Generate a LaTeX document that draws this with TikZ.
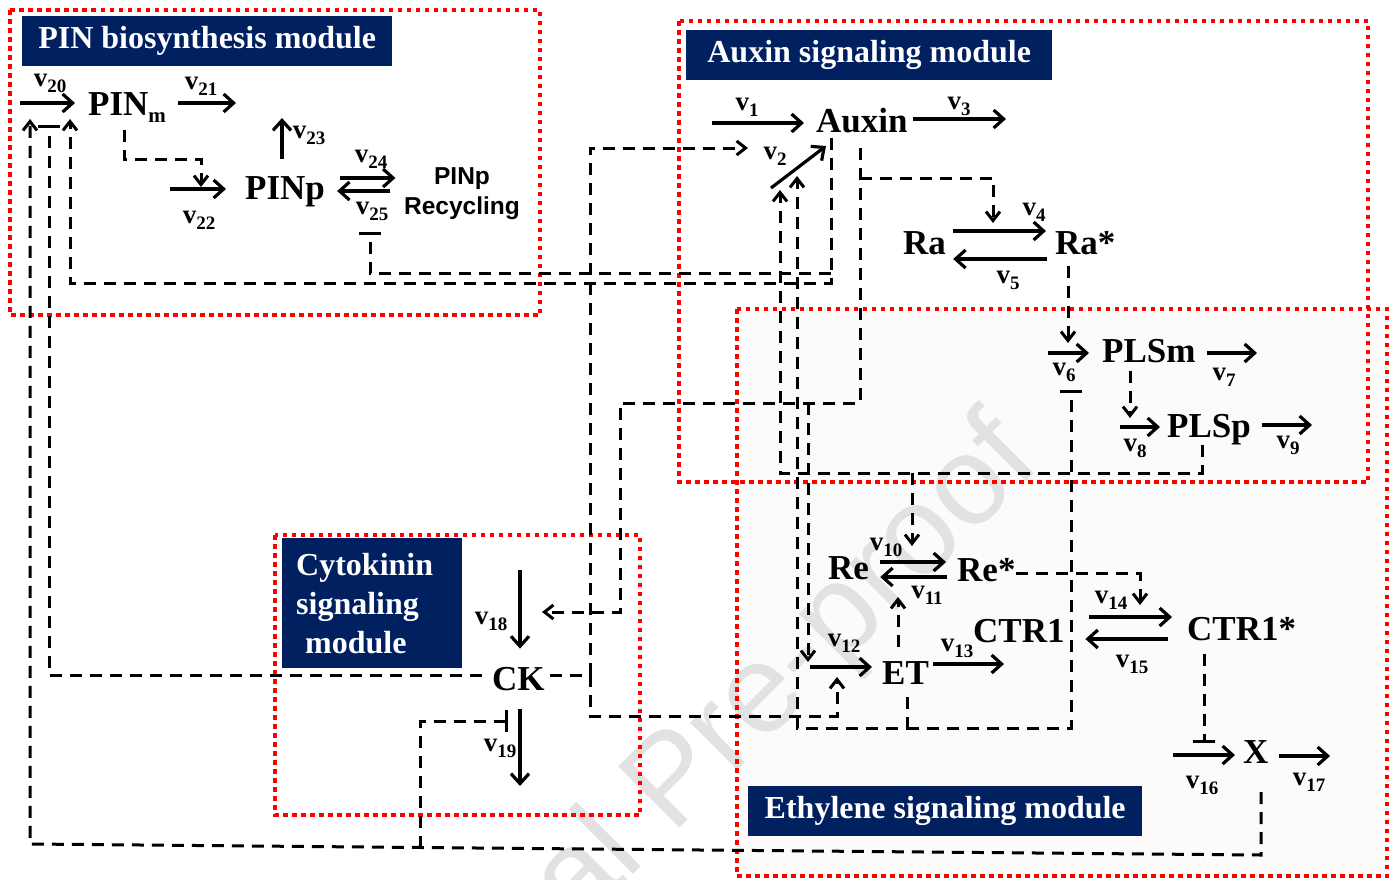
\documentclass[tikz,border=0pt]{standalone}
\usepackage{fontspec}
\setmainfont{Liberation Serif}
\newfontfamily\arialfont{Liberation Sans}
\usetikzlibrary{arrows.meta}
\definecolor{navy}{HTML}{002060}
\definecolor{wmgray}{HTML}{E2E2E2}
\definecolor{ethfill}{RGB}{252,251,249}
% rate label: bold v with a lowered index
\newcommand\rl[1]{v\raisebox{-6pt}{\fontsize{19}{19}\selectfont #1}}
\tikzset{
  sp/.style={inner sep=0pt, anchor=base west, font=\fontsize{35}{40}\selectfont\bfseries},
  lb/.style={inner sep=0pt, font=\fontsize{27}{27}\selectfont\bfseries},
  rx/.style={line width=3.2pt, -{Straight Barb[length=10pt,width=18pt]}},
  dsh/.style={line width=3pt, dash pattern=on 12pt off 8pt},
  act/.style={dsh, -{Straight Barb[length=9pt,width=14pt]}},
  inh/.style={dsh, -{Bar[width=22pt]}},
  modbox/.style={draw=red, line width=4.5pt, dash pattern=on 4.5pt off 4.5pt},
  modlabel/.style={fill=navy, text=white, inner sep=0pt, anchor=north west,
    minimum height=50pt, font=\fontsize{32}{39}\selectfont\bfseries},
}
\begin{document}
\begin{tikzpicture}[x=1pt,y=-1pt]
\useasboundingbox (0,0) rectangle (1399,879);

% ethylene module background and watermark
\fill[ethfill] (737,309) rectangle (1387,876);
\node[font=\arialfont\fontsize{126}{126}\selectfont, text=wmgray, rotate=45,
      anchor=base east, inner sep=0pt] (wmark) at (1044,464) {Journal Pre-proof};

% module frames
\draw[modbox] (10,10) rectangle (540,315);
\draw[modbox] (679,21) rectangle (1368,482);
\draw[modbox] (737,309) rectangle (1387,876);
\draw[modbox] (275,535) rectangle (640,815);

% module titles
\node[modlabel, minimum width=370pt] (labPIN) at (22,16) {PIN biosynthesis module};
\node[modlabel, minimum width=366pt] (labAux) at (686,30) {Auxin signaling module};
\node[modlabel, minimum width=394pt] (labEth) at (748,786) {Ethylene signaling module};
\node[modlabel, minimum width=180pt, minimum height=130pt, text width=152pt, align=left]
  (labCK) at (282,538) {Cytokinin\\signaling\\\hspace*{9pt}module};

% species
\node[sp] (PINm) at (88,115) {PIN\raisebox{-7pt}{\fontsize{21}{21}\selectfont m}};
\node[sp] (PINp) at (245,199) {PINp};
\node[inner sep=0pt, align=center, font=\arialfont\bfseries\fontsize{24.5}{30}\selectfont]
  (Rec) at (462,194) {PINp\\Recycling};
\node[sp] (Auxin) at (816,132) {Auxin};
\node[sp] (Ra) at (903,254) {Ra};
\node[sp] (Ras) at (1055,254) {Ra*};
\node[sp] (PLSm) at (1102,362) {PLSm};
\node[sp] (PLSp) at (1167,437) {PLSp};
\node[sp] (Re) at (828,579) {Re};
\node[sp] (Res) at (957,581) {Re*};
\node[sp] (ET) at (882,684) {ET};
\node[sp] (CTR) at (973,642) {CTR1};
\node[sp] (CTRs) at (1187,640) {CTR1*};
\node[sp] (X) at (1243,763) {X};
\node[sp] (CK) at (492,690) {CK};

% free ends of the reaction arrows
\coordinate (f20) at (20,103);
\coordinate (f21) at (236,103);
\coordinate (f22) at (170,189);
\coordinate (f23) at (282,118);
\coordinate (f1) at (712,123);
\coordinate (f2) at (771,188);
\coordinate (t2) at (826,146);
\coordinate (f3) at (1006,119);
\coordinate (f6) at (1048,353);
\coordinate (f7) at (1257,353);
\coordinate (f8) at (1120,427);
\coordinate (f9) at (1312,425);
\coordinate (f12) at (810,667);
\coordinate (f13) at (1004,664);
\coordinate (f16) at (1173,755);
\coordinate (f17) at (1330,756);
\coordinate (f18) at (520,570);
\coordinate (f19) at (520,786);

% reactions
\draw[rx, shorten >=13pt] (f20) -- (PINm.west |- f20);
\draw[rx, shorten <=12pt] (PINm.east |- f21) -- (f21);
\draw[rx, shorten >=19pt] (f22) -- (PINp.west |- f22);
\draw[rx, shorten <=17pt] (f23 |- PINp.north) -- (f23);
\draw[rx, shorten <=15pt, shorten >=8.5pt] (PINp.east |- 0,178) -- (Rec.west |- 0,178);
\draw[rx, shorten <=13.5pt, shorten >=12pt] (Rec.west |- 0,191) -- (PINp.east |- 0,191);
\draw[rx, shorten >=12pt] (f1) -- (Auxin.west |- f1);
\draw[rx] (f2) -- (t2);
\draw[rx, shorten <=5.6pt] (Auxin.east |- f3) -- (f3);
\draw[rx, shorten <=7pt, shorten >=9pt] (Ra.east |- 0,231) -- (Ras.west |- 0,231);
\draw[rx, shorten <=8pt, shorten >=7pt] (Ras.west |- 0,259) -- (Ra.east |- 0,259);
\draw[rx, shorten >=13pt] (f6) -- (PLSm.west |- f6);
\draw[rx, shorten <=11.7pt] (PLSm.east |- f7) -- (f7);
\draw[rx, shorten >=7pt] (f8) -- (PLSp.west |- f8);
\draw[rx, shorten <=11.3pt] (PLSp.east |- f9) -- (f9);
\draw[rx, shorten <=11pt, shorten >=11pt] (Re.east |- 0,562) -- (Res.west |- 0,562);
\draw[rx, shorten <=10pt, shorten >=11pt] (Res.west |- 0,577) -- (Re.east |- 0,577);
\draw[rx, shorten >=10pt] (f12) -- (ET.west |- f12);
\draw[rx, shorten <=4.3pt] (ET.east |- f13) -- (f13);
\draw[rx, shorten <=24.6pt, shorten >=15pt] (CTR.east |- 0,617) -- (CTRs.west |- 0,617);
\draw[rx, shorten <=19pt, shorten >=20.6pt] (CTRs.west |- 0,639) -- (CTR.east |- 0,639);
\draw[rx, shorten >=8pt] (f16) -- (X.west |- f16);
\draw[rx, shorten <=10.7pt] (X.east |- f17) -- (f17);
\draw[rx, shorten >=18pt] (f18) -- (f18 |- CK.north);
\draw[rx, shorten <=18pt] (f19 |- CK.south) -- (f19);

% rate labels
\node[lb] (l20) at (50,83) {\rl{20}};
\node[lb] (l21) at (201,86) {\rl{21}};
\node[lb] (l22) at (199,220) {\rl{22}};
\node[lb] (l23) at (309,135) {\rl{23}};
\node[lb] (l24) at (371,159) {\rl{24}};
\node[lb] (l25) at (372,211) {\rl{25}};
\node[lb] (l1) at (747,107) {\rl{1}};
\node[lb] (l2) at (775,156) {\rl{2}};
\node[lb] (l3) at (959,106) {\rl{3}};
\node[lb] (l4) at (1034,212) {\rl{4}};
\node[lb] (l5) at (1008,280) {\rl{5}};
\node[lb] (l6) at (1064,372) {\rl{6}};
\node[lb] (l7) at (1224,377) {\rl{7}};
\node[lb] (l8) at (1135,448) {\rl{8}};
\node[lb] (l9) at (1288,445) {\rl{9}};
\node[lb] (l10) at (886,547) {\rl{10}};
\node[lb] (l11) at (927,595) {\rl{11}};
\node[lb] (l12) at (844,643) {\rl{12}};
\node[lb] (l13) at (957,648) {\rl{13}};
\node[lb] (l14) at (1111,600) {\rl{14}};
\node[lb] (l15) at (1132,664) {\rl{15}};
\node[lb] (l16) at (1202,785) {\rl{16}};
\node[lb] (l17) at (1309,782) {\rl{17}};
\node[lb] (l18) at (491,621) {\rl{18}};
\node[lb] (l19) at (500,748) {\rl{19}};

% targets of the regulatory links
\coordinate (v22t) at (201,187);
\coordinate (v20a) at (30,119);
\coordinate (v20i) at (49,125);
\coordinate (v20b) at (70,119);
\coordinate (v25i) at (370,232);
\coordinate (v2a) at (748,148);
\coordinate (v2b) at (780,190);
\coordinate (v2c) at (797,176);
\coordinate (v4a) at (993,223);
\coordinate (v6a) at (1068,343);
\coordinate (v6i) at (1071,390);
\coordinate (v8a) at (1130,418);
\coordinate (v10a) at (912,546);
\coordinate (v11a) at (898,597);
\coordinate (v12a) at (808,662);
\coordinate (v12b) at (837,677);
\coordinate (v14a) at (1140,605);
\coordinate (v16i) at (1204,743);
\coordinate (v18a) at (542,612);
\coordinate (v19i) at (508,721);

% branch points
\coordinate (jA1) at (831,273);
\coordinate (jA2) at (808,403);
\coordinate (jA3) at (860,178);
\coordinate (jC) at (590,675);
\coordinate (jP) at (912,473);
\coordinate (jE) at (907,728);
\coordinate (jX) at (420,847.5);

% regulatory links
\draw[act, shorten <=8pt] (124,0 |- PINm.south) -- (124,159) -| (v22t);
\draw[act, shorten <=5pt] (831,0 |- Auxin.south) -- (831,283) -| (v20b);
\draw[inh] (jA1) -| (v25i);
\draw[act, shorten <=15pt] (860,0 |- Auxin.south) |- (620,403) |- (v18a);
\draw[act] (jA3) -| (v4a);
\draw[act] (jA2) -- (v12a);
\draw[inh, shorten <=10pt] (CK.west |- 0,675) -| (v20i);
\draw[act, shorten <=5pt] (CK.east |- 0,675) -- (jC) |- (v2a);
\draw[act] (jC) -- (590,716) -| (v12b);
\draw[act] (1202,0 |- PLSp.south) |- (780,473) -- (v2b);
\draw[act] (jP) -- (v10a);
\draw[act, shorten <=13pt] (907,0 |- ET.south) |- (797,728) -- (v2c);
\draw[inh] (jE) -| (v6i);
\draw[act, shorten <=14pt] (898,0 |- ET.north) -- (v11a);
\draw[act] (Res.east |- 0,573) -| (v14a);
\draw[inh, shorten <=13pt] (1204,0 |- CTRs.south) -- (v16i);
\draw[act, shorten <=29pt] (1261,0 |- X.south) -- (1261,855) -- (30,844) -- (v20a);
\draw[inh] (jX) |- (v19i);
\draw[act, shorten <=11pt] (1068,0 |- Ras.south) -- (v6a);
\draw[act, shorten <=8pt] (1130,0 |- PLSm.south) -- (v8a);
\end{tikzpicture}
\end{document}
